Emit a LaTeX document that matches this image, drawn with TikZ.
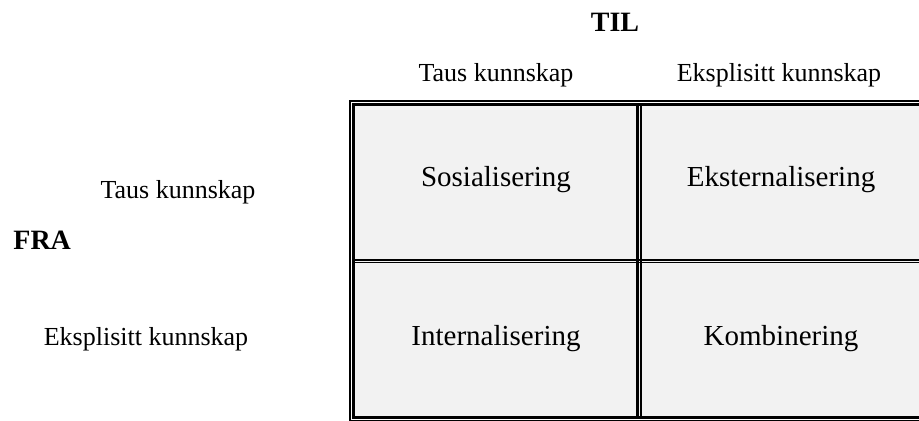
\documentclass[tikz,border=0pt]{standalone}
\usepackage{fontspec}
\setmainfont{Liberation Serif}
\definecolor{cellgray}{RGB}{242,242,242}

\begin{document}
\begin{tikzpicture}[x=0.5pt, y=-0.5pt,
    lbl/.style={inner sep=0pt, anchor=base, font=\fontsize{13}{15}\selectfont},
    celltext/.style={inner sep=0pt, anchor=base, font=\fontsize{14.5}{17}\selectfont},
    head/.style={inner sep=0pt, font=\fontsize{14}{17}\selectfont\bfseries}]
      \useasboundingbox (0,0) rectangle (919,421);
      \clip (0,0) rectangle (919,421);
      % table
      \fill[cellgray] (355,106) rectangle (921,416);
      \draw[line width=0.75pt] (350,100.8) rectangle (927,420.5);
      \draw[line width=1.75pt] (353.5,104.5) rectangle (922.5,417.5);
      \draw[line width=1.5pt]  (637.5,104.5) -- (637.5,417.5);
      \draw[line width=0.75pt] (641,104.5)   -- (641,417.5);
      \draw[line width=1.3pt]  (353.5,260)   -- (922.5,260);
      \draw[line width=0.7pt]  (353.5,262.8) -- (922.5,262.8);
      % cells
      \node[celltext] (sos) at (496,187) {Sosialisering};
      \node[celltext] (eks) at (781,187) {Eksternalisering};
      \node[celltext] (int) at (496,346) {Internalisering};
      \node[celltext] (kom) at (781,346) {Kombinering};
      % headings
      \node[head, anchor=base]      (til) at (615,32) {TIL};
      \node[head, anchor=base west] (fra) at (13,250) {FRA};
      \node[lbl] (tilTaus) at (496,82)  {Taus kunnskap};
      \node[lbl] (tilEks)  at (779,82)  {Eksplisitt kunnskap};
      \node[lbl] (fraTaus) at (178,199) {Taus kunnskap};
      \node[lbl] (fraEks)  at (146,346) {Eksplisitt kunnskap};
    \end{tikzpicture}
\end{document}
